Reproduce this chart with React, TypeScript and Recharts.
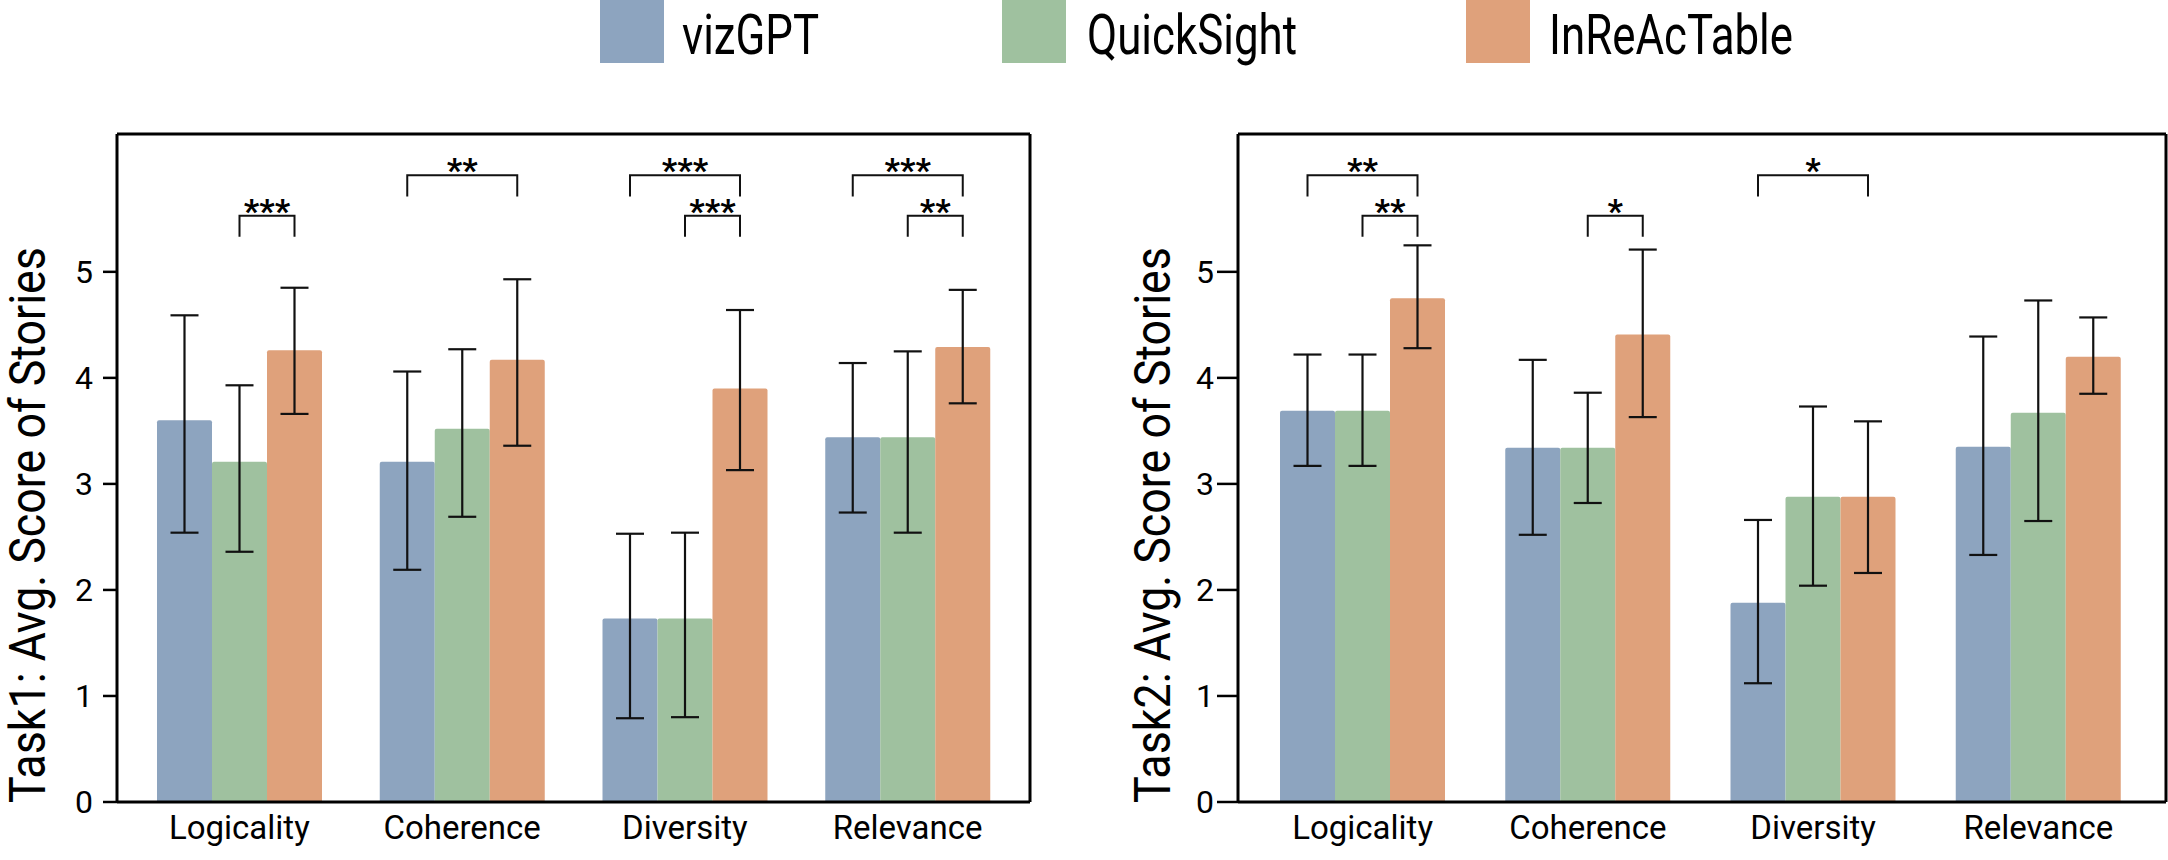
import { Bar, BarChart, ErrorBar, Rectangle, XAxis, YAxis } from "recharts";

const categories = ["Logicality", "Coherence", "Diversity", "Relevance"];
const seriesNames = ["vizGPT", "QuickSight", "InReAcTable"];
const yTicks = [0, 1, 2, 3, 4, 5];

// Task 1 means and error-bar ends
const task1VizGPT = [3.6, 3.21, 1.73, 3.44];
const task1VizGPTLow = [2.54, 2.19, 0.79, 2.73];
const task1VizGPTHigh = [4.59, 4.06, 2.53, 4.14];
const task1QuickSight = [3.21, 3.52, 1.73, 3.44];
const task1QuickSightLow = [2.36, 2.69, 0.8, 2.54];
const task1QuickSightHigh = [3.93, 4.27, 2.54, 4.25];
const task1InReAcTable = [4.26, 4.17, 3.9, 4.29];
const task1InReAcTableLow = [3.66, 3.36, 3.13, 3.76];
const task1InReAcTableHigh = [4.85, 4.93, 4.64, 4.83];
// significance: vizGPT vs InReAcTable (upper), QuickSight vs InReAcTable (lower)
const task1Upper = ["", "**", "***", "***"];
const task1Lower = ["***", "", "***", "**"];

// Task 2
const task2VizGPT = [3.69, 3.34, 1.88, 3.35];
const task2VizGPTLow = [3.17, 2.52, 1.12, 2.33];
const task2VizGPTHigh = [4.22, 4.17, 2.66, 4.39];
const task2QuickSight = [3.69, 3.34, 2.88, 3.67];
const task2QuickSightLow = [3.17, 2.82, 2.04, 2.65];
const task2QuickSightHigh = [4.22, 3.86, 3.73, 4.73];
const task2InReAcTable = [4.75, 4.41, 2.88, 4.2];
const task2InReAcTableLow = [4.28, 3.63, 2.16, 3.85];
const task2InReAcTableHigh = [5.25, 5.21, 3.59, 4.57];
const task2Upper = ["**", "", "*", ""];
const task2Lower = ["**", "*", "", ""];

const COLORS: Record<string, string> = {
  vizGPT: "#8DA4BF",
  QuickSight: "#9FC19F",
  InReAcTable: "#DFA17B",
};
const FONT = "Roboto, sans-serif";
const Y_MAX = 6.3;
const UPPER_LEVEL = [5.91, 5.71];
const LOWER_LEVEL = [5.53, 5.33];

function buildRows(means: number[][], lows: number[][], highs: number[][], upper: string[], lower: string[]) {
  return categories.map((category, i) => {
    const row: Record<string, any> = { category, upper: upper[i], lower: lower[i] };
    seriesNames.forEach((name, s) => {
      row[name] = means[s][i];
      row[`${name}Err`] = [means[s][i] - lows[s][i], highs[s][i] - means[s][i]];
    });
    return row;
  });
}

const task1Rows = buildRows(
  [task1VizGPT, task1QuickSight, task1InReAcTable],
  [task1VizGPTLow, task1QuickSightLow, task1InReAcTableLow],
  [task1VizGPTHigh, task1QuickSightHigh, task1InReAcTableHigh],
  task1Upper,
  task1Lower
);
const task2Rows = buildRows(
  [task2VizGPT, task2QuickSight, task2InReAcTable],
  [task2VizGPTLow, task2QuickSightLow, task2InReAcTableLow],
  [task2VizGPTHigh, task2QuickSightHigh, task2InReAcTableHigh],
  task2Upper,
  task2Lower
);

function Bracket({ x1, x2, toY, level, stars }: any) {
  const yLine = toY(level[0]);
  const yLeg = toY(level[1]);
  return (
    <g>
      <path d={`M${x1},${yLeg} V${yLine} H${x2} V${yLeg}`} fill="none" stroke="#111" strokeWidth={2} />
      <text x={(x1 + x2) / 2} y={yLine + 7} textAnchor="middle" fontSize={34} fontWeight={700} fontFamily={FONT} fill="#000">
        {stars}
      </text>
    </g>
  );
}

// last series bar: draws the bar plus the significance brackets from its own scale
function BracketBar(props: any) {
  const { x, y, width, height, fill, payload } = props;
  const value = payload.InReAcTable;
  const unit = height / value;
  const base = y + height;
  const toY = (v: number) => base - v * unit;
  const cx = x + width / 2;
  return (
    <g>
      <Rectangle x={x} y={y} width={width} height={height} fill={fill} radius={[2, 2, 0, 0]} />
      {payload.upper && <Bracket x1={cx - 2 * width} x2={cx} toY={toY} level={UPPER_LEVEL} stars={payload.upper} />}
      {payload.lower && <Bracket x1={cx - width} x2={cx} toY={toY} level={LOWER_LEVEL} stars={payload.lower} />}
    </g>
  );
}

function AxisTitle({ text, posX, posY }: any) {
  return (
    <text
      transform={`translate(${posX},${posY}) rotate(-90)`}
      textAnchor="middle"
      fontSize={50}
      fontFamily={FONT}
      fill="#000"
      textLength={556}
      lengthAdjust="spacingAndGlyphs"
    >
      {text}
    </text>
  );
}

const frame = { stroke: "#000", strokeWidth: 3 };

function TaskChart({ rows, title, width, margin, padding, gap, tickSize, tickMargin, titleX }: any) {
  return (
    <BarChart width={width} height={860} data={rows} margin={margin} barCategoryGap={gap} barGap={0}>
      <XAxis
        dataKey="category"
        interval={0}
        height={50}
        tickLine={false}
        tickSize={6}
        tickMargin={8}
        axisLine={frame}
        padding={padding}
        tick={{ fontSize: 33, fill: "#000", fontFamily: FONT }}
      />
      <XAxis xAxisId="top" orientation="top" dataKey="category" height={1} tick={false} tickLine={false} axisLine={frame} padding={padding} />
      <YAxis
        domain={[0, Y_MAX]}
        ticks={yTicks}
        width={60}
        tickSize={tickSize}
        tickMargin={tickMargin}
        tickLine={{ stroke: "#000", strokeWidth: 2.5 }}
        axisLine={frame}
        tick={{ fontSize: 32, fill: "#000", fontFamily: FONT }}
        label={<AxisTitle text={title} posX={titleX} posY={525} />}
      />
      <YAxis yAxisId="right" orientation="right" domain={[0, Y_MAX]} width={1} tick={false} tickLine={false} axisLine={frame} />
      {seriesNames.map((name) => (
        <Bar
          key={name}
          dataKey={name}
          fill={COLORS[name]}
          isAnimationActive={false}
          radius={[2, 2, 0, 0]}
          shape={name === "InReAcTable" ? (p: any) => <BracketBar {...p} /> : undefined}
        >
          <ErrorBar dataKey={`${name}Err`} width={14} strokeWidth={2.2} stroke="#111" direction="y" />
        </Bar>
      ))}
    </BarChart>
  );
}

const legendBoxes = [600, 1002, 1466];
const legendTextX = [682, 1087, 1549];
const legendTextLen = [137, 210, 244];

export default function App() {
  return (
    <div style={{ position: "absolute", left: 0, top: 0, width: 2168, height: 860, background: "#fff", overflow: "hidden" }}>
      <svg width={2168} height={70} style={{ position: "absolute", left: 0, top: 0 }}>
        {seriesNames.map((name, i) => (
          <g key={name}>
            <rect x={legendBoxes[i]} y={-1} width={64} height={64} fill={COLORS[name]} />
            <text
              x={legendTextX[i]}
              y={54}
              fontSize={56}
              fontFamily={FONT}
              fill="#000"
              textLength={legendTextLen[i]}
              lengthAdjust="spacingAndGlyphs"
            >
              {name}
            </text>
          </g>
        ))}
      </svg>
      <div style={{ position: "absolute", left: 0, top: 0 }}>
        <TaskChart
          rows={task1Rows}
          title="Task1: Avg. Score of Stories"
          width={1100}
          margin={{ top: 133, right: 69, bottom: 8, left: 57 }}
          padding={{ left: 11, right: 11 }}
          gap={29}
          tickSize={14}
          tickMargin={10}
          titleX={45}
        />
      </div>
      <div style={{ position: "absolute", left: 1110, top: 0 }}>
        <TaskChart
          rows={task2Rows}
          title="Task2: Avg. Score of Stories"
          width={1058}
          margin={{ top: 133, right: 1, bottom: 8, left: 68 }}
          padding={{ left: 12, right: 15 }}
          gap={30}
          tickSize={21}
          tickMargin={3}
          titleX={60}
        />
      </div>
    </div>
  );
}
